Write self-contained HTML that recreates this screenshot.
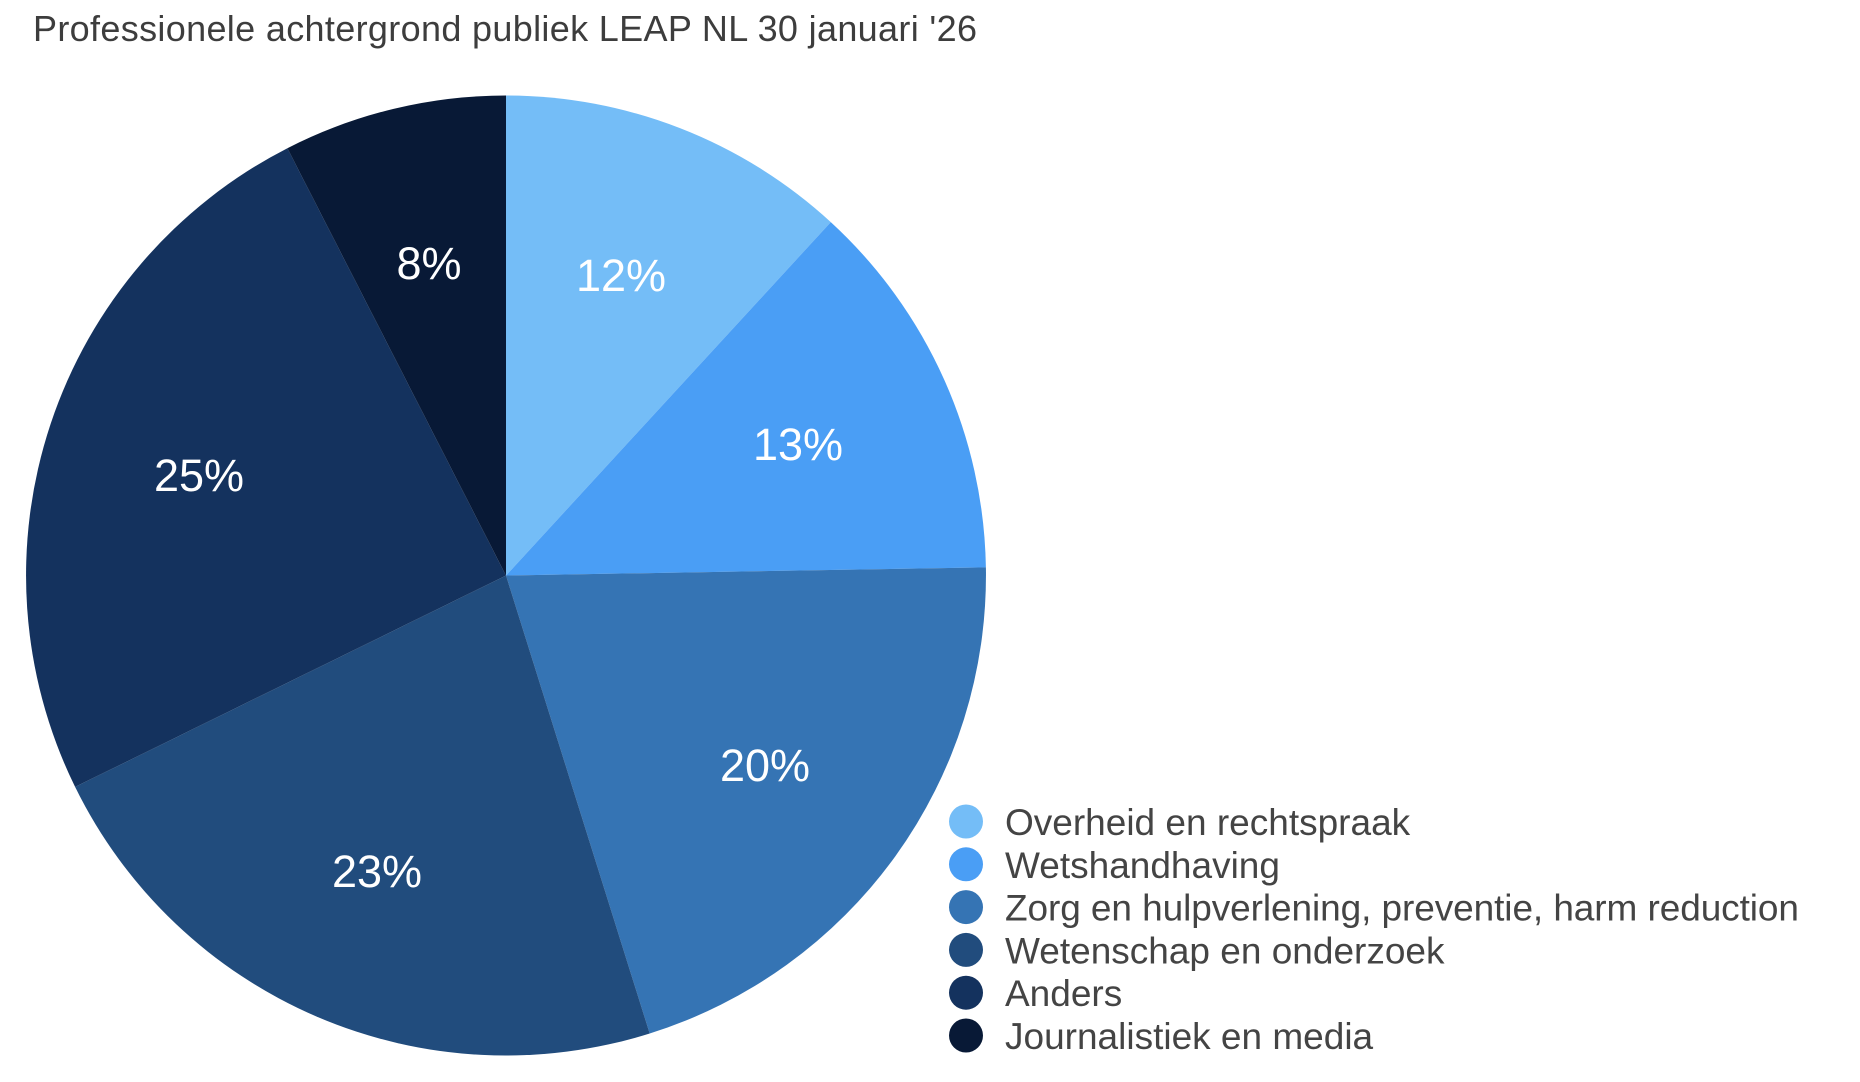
<!DOCTYPE html>
<html>
<head>
<meta charset="utf-8">
<style>
  html, body { margin: 0; padding: 0; background: #ffffff; }
  body { width: 1860px; height: 1082px; overflow: hidden; }
  svg { display: block; }
  text { font-family: "Liberation Sans", Arial, sans-serif; }
</style>
</head>
<body>
<svg width="1860" height="1082" viewBox="0 0 1860 1082" xmlns="http://www.w3.org/2000/svg">
  <rect x="0" y="0" width="1860" height="1082" fill="#ffffff"/>

  <!-- Title -->
  <text x="33" y="41" font-size="36" fill="#3d3d3d" textLength="944" lengthAdjust="spacing">Professionele achtergrond publiek LEAP NL 30 januari '26</text>

  <!-- Pie slices -->
  <g stroke="none">
    <path d="M506,575.5 L506,95.5 A480,480 0 0 1 830.8,222.1 Z" fill="#74bdf7"/>
    <path d="M506,575.5 L830.8,222.1 A480,480 0 0 1 985.9,567.4 Z" fill="#4a9ef5"/>
    <path d="M506,575.5 L985.9,567.4 A480,480 0 0 1 649.7,1033.5 Z" fill="#3574b4"/>
    <path d="M506,575.5 L649.7,1033.5 A480,480 0 0 1 75.1,786.9 Z" fill="#214c7d"/>
    <path d="M506,575.5 L75.1,786.9 A480,480 0 0 1 287.4,148.2 Z" fill="#14325e"/>
    <path d="M506,575.5 L287.4,148.2 A480,480 0 0 1 506,95.5 Z" fill="#081936"/>
  </g>

  <!-- Slice labels -->
  <g font-size="45" fill="#ffffff" text-anchor="middle">
    <text x="621" y="291">12%</text>
    <text x="798" y="460">13%</text>
    <text x="765" y="781">20%</text>
    <text x="377" y="887">23%</text>
    <text x="199" y="491">25%</text>
    <text x="429" y="279">8%</text>
  </g>

  <!-- Legend -->
  <g>
    <circle cx="966" cy="821.5" r="17" fill="#74bdf7"/>
    <circle cx="966" cy="864.3" r="17" fill="#4a9ef5"/>
    <circle cx="966" cy="907.1" r="17" fill="#3574b4"/>
    <circle cx="966" cy="949.9" r="17" fill="#214c7d"/>
    <circle cx="966" cy="992.7" r="17" fill="#14325e"/>
    <circle cx="966" cy="1035.5" r="17" fill="#081936"/>
  </g>
  <g font-size="37" fill="#444444">
    <text x="1005" y="835">Overheid en rechtspraak</text>
    <text x="1005" y="877.8">Wetshandhaving</text>
    <text x="1005" y="920.6" textLength="794" lengthAdjust="spacing">Zorg en hulpverlening, preventie, harm reduction</text>
    <text x="1005" y="963.4">Wetenschap en onderzoek</text>
    <text x="1005" y="1006.2">Anders</text>
    <text x="1005" y="1049">Journalistiek en media</text>
  </g>
</svg>
</body>
</html>
